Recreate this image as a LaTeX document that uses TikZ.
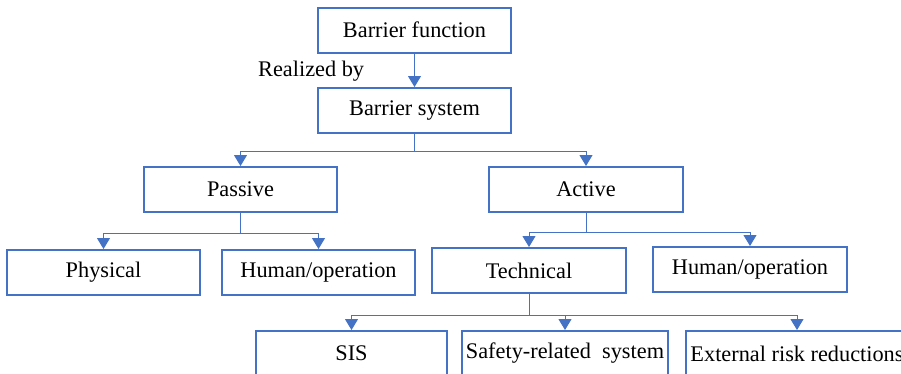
\documentclass[tikz,border=0pt]{standalone}
\usepackage{fontspec}
\setmainfont{Liberation Serif}
\usetikzlibrary{arrows.meta}
\definecolor{boxblue}{HTML}{4472C4}
\begin{document}
\begin{tikzpicture}[x=1pt,y=-1pt,
  box/.style={draw=boxblue,line width=2pt,rectangle,minimum width=#1,
    minimum height=45pt,inner sep=0pt,text=black,
    font=\fontsize{22.3}{25}\selectfont},
  link/.style={draw=boxblue,line width=1pt,
    -{Triangle[width=13pt,length=11pt]}},
  lbl/.style={inner sep=0pt,font=\fontsize{22.3}{25}\selectfont}]
\useasboundingbox (0,0) rectangle (901,373);
\clip (0,0) rectangle (901,373);

% top level
\node[box=193pt] (bf) at (414.5,30) {Barrier function};
\node[box=193pt] (bs) at (414.5,110.5) {Barrier system};
\node[lbl,anchor=base west] (rb) at (258,76) {Realized by};

% second level
\node[box=193pt] (passive) at (240.5,189.5) {Passive};
\node[box=194pt] (active) at (586,189.5) {Active};

% third level
\node[box=193pt] (phys) at (103.5,272.5) {Physical};
\node[box=193pt] (humA) at (318.5,272.5) {Human/operation};
\node[box=194pt] (tech) at (529,270.5) {Technical};
\node[box=194pt] (humB) at (750,269.5) {Human/operation};

% fourth level
\node[box=191pt] (sis) at (351.5,353.5) {SIS};
\node[box=206pt] (srs) at (565,353.5) {Safety-related~ system};
\node[box=222pt] (ext) at (797,353.5) {External risk reductions};

% connectors
\draw[link] (bf.south) -- (bs.north);
\draw[link] (bs.south) -- ++(0,17) -| (passive.north);
\draw[link] (bs.south) -- ++(0,17) -| (active.north);
\draw[link] (passive.south) -- ++(0,20) -| (phys.north);
\draw[link] (passive.south) -- ++(0,20) -| (humA.north);
\draw[link] (active.south) -- ++(0,19) -| (tech.north);
\draw[link] (active.south) -- ++(0,19) -| (humB.north);
\draw[link] (tech.south) -- ++(0,21) -| (sis.north);
\draw[link] (tech.south) -- ++(0,21) -| (srs.north);
\draw[link] (tech.south) -- ++(0,21) -| (ext.north);
\end{tikzpicture}
\end{document}
